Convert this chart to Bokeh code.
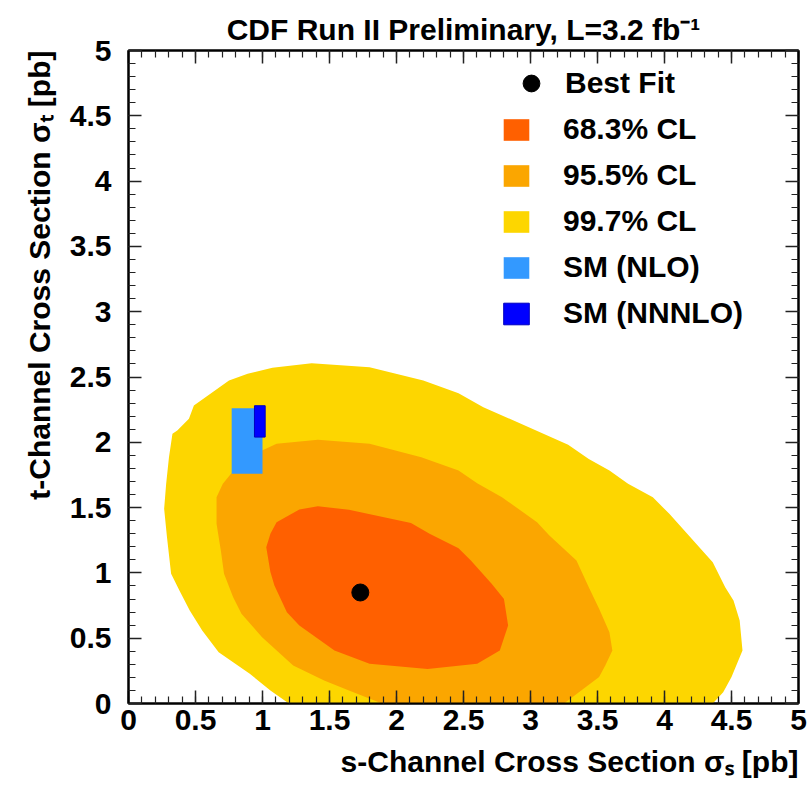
import numpy as np
from bokeh.plotting import figure
from bokeh.models import Range1d, LinearAxis, FixedTicker, Legend, LegendItem, Title
from bokeh.embed import file_html
from bokeh.resources import INLINE

# ---- data -------------------------------------------------------------
# best fit (s-channel, t-channel) cross sections in pb
fit_s = [1.73]
fit_t = [0.85]

# 99.7% CL region boundary
cl997_s = [1.367, 1.799, 2.200, 2.463, 2.648, 3.281, 3.435, 3.589, 3.728, 3.913,
           4.036, 4.360, 4.453, 4.515, 4.561, 4.582, 4.500, 4.438, 4.360,
           1.197, 1.059, 0.905, 0.673, 0.550, 0.457, 0.380, 0.318, 0.287, 0.266,
           0.281, 0.302, 0.328, 0.364, 0.451, 0.488, 0.750, 0.889, 1.074]
cl997_t = [2.606, 2.575, 2.473, 2.376, 2.269, 1.981, 1.873, 1.784, 1.682, 1.580,
           1.452, 1.082, 0.891, 0.789, 0.636, 0.406, 0.202, 0.087, 0.0,
           0.0, 0.100, 0.227, 0.393, 0.559, 0.712, 0.865, 0.993, 1.274, 1.491,
           1.682, 1.886, 2.065, 2.090, 2.180, 2.282, 2.473, 2.524, 2.570]

# 95.5% CL region boundary
cl955_s = [1.413, 1.799, 2.185, 2.463, 2.602, 2.787, 3.049, 3.141, 3.343, 3.435,
           3.512, 3.589, 3.611, 3.558, 3.512, 3.250,
           1.892, 1.645, 1.460, 1.229, 0.997, 0.843, 0.781, 0.713, 0.689, 0.657,
           0.657, 0.704, 0.765, 0.997, 1.105]
cl955_t = [2.019, 1.988, 1.886, 1.784, 1.687, 1.580, 1.388, 1.286, 1.095, 0.891,
           0.725, 0.546, 0.406, 0.291, 0.202, 0.0,
           0.0, 0.100, 0.176, 0.291, 0.508, 0.687, 0.814, 0.993, 1.172, 1.376,
           1.580, 1.682, 1.759, 1.937, 1.988]

# 68.3% CL region boundary
cl683_s = [1.413, 1.645, 2.108, 2.247, 2.463, 2.555, 2.710, 2.802, 2.833, 2.771,
           2.602, 2.232, 1.799, 1.537, 1.275, 1.182, 1.089, 1.059, 1.028, 1.059,
           1.105, 1.275]
cl683_t = [1.511, 1.483, 1.383, 1.299, 1.189, 1.095, 0.916, 0.801, 0.597, 0.406,
           0.304, 0.265, 0.304, 0.406, 0.597, 0.699, 0.904, 1.006, 1.197, 1.299,
           1.388, 1.485]

# Standard Model predictions: central value and uncertainty
sm_nlo_s, sm_nlo_s_err = 0.885, 0.115
sm_nlo_t, sm_nlo_t_err = 2.01, 0.25
sm_nnnlo_s, sm_nnnlo_s_err = 0.98, 0.04
sm_nnnlo_t, sm_nnnlo_t_err = 2.16, 0.12

tick_values = [0, 0.5, 1, 1.5, 2, 2.5, 3, 3.5, 4, 4.5, 5]
tick_labels = ["0", "0.5", "1", "1.5", "2", "2.5", "3", "3.5", "4", "4.5", "5"]

series_labels = ["Best Fit", "68.3% CL", "95.5% CL", "99.7% CL", "SM (NLO)", "SM (NNNLO)"]

title_text = "CDF Run II Preliminary, L=3.2 fb\u207b\u00b9"
x_title = "s-Channel Cross Section \u03c3\u209b [pb]"
y_title = "t-Channel Cross Section \u03c3\u209c [pb]"

# ---- style ------------------------------------------------------------
C683 = "#FF6000"
C955 = "#FBA600"
C997 = "#FDD600"
C_NLO = "#3399FF"
C_NNNLO = "#0000FF"
FONT = "Liberation Sans"

p = figure(width=810, height=793, output_backend="svg", toolbar_location=None,
           x_range=Range1d(0, 5), y_range=Range1d(0, 5),
           min_border_left=128, min_border_right=12, min_border_top=50,
           min_border_bottom=90, x_axis_location=None, y_axis_location=None)
p.grid.visible = False
p.outline_line_color = "black"
p.outline_line_width = 2
p.background_fill_color = "white"
p.border_fill_color = "white"

p.title.text = title_text
p.title.align = "center"
p.title.text_font = FONT
p.title.text_font_style = "bold"
p.title.text_font_size = "30px"
p.title.text_color = "black"
p.title.standoff = 10

# confidence regions, outermost first
r997 = p.patch(cl997_s, cl997_t, fill_color=C997, line_color=None)
r955 = p.patch(cl955_s, cl955_t, fill_color=C955, line_color=None)
r683 = p.patch(cl683_s, cl683_t, fill_color=C683, line_color=None)

# SM prediction boxes
r_nlo = p.quad(left=[sm_nlo_s - sm_nlo_s_err], right=[sm_nlo_s + sm_nlo_s_err],
               bottom=[sm_nlo_t - sm_nlo_t_err], top=[sm_nlo_t + sm_nlo_t_err],
               fill_color=C_NLO, line_color=None)
r_nnnlo = p.quad(left=[sm_nnnlo_s - sm_nnnlo_s_err], right=[sm_nnnlo_s + sm_nnnlo_s_err],
                 bottom=[sm_nnnlo_t - sm_nnnlo_t_err], top=[sm_nnnlo_t + sm_nnnlo_t_err],
                 fill_color=C_NNNLO, line_color="#0000C0", line_width=1)

fit_r = p.scatter(fit_s, fit_t, size=17, color="black")

# ---- axes -------------------------------------------------------------
minor = [round(v, 2) for v in np.arange(0, 5.001, 0.1)]
ticker = FixedTicker(ticks=tick_values, minor_ticks=minor)


def style_axis(ax, labels):
    ax.ticker = ticker
    ax.axis_line_color = "black"
    ax.axis_line_width = 2
    ax.major_tick_in = 13
    ax.major_tick_out = 0
    ax.minor_tick_in = 7
    ax.minor_tick_out = 0
    ax.major_tick_line_color = "#222222"
    ax.minor_tick_line_color = "#222222"
    ax.major_tick_line_width = 1.5
    ax.minor_tick_line_width = 1.2
    ax.major_label_text_font = FONT
    ax.major_label_text_font_style = "bold"
    ax.major_label_text_font_size = "30px"
    ax.major_label_text_color = "black"
    if labels:
        ax.major_label_overrides = {v: s for v, s in zip(tick_values, tick_labels)}
    else:
        # mirrored axis: tick marks only
        ax.major_label_overrides = {v: "" for v in tick_values}
        ax.major_label_standoff = 0


xb = LinearAxis()
style_axis(xb, True)
xb.major_label_standoff = 6
p.add_layout(xb, "below")

yl = LinearAxis()
style_axis(yl, True)
yl.major_label_standoff = 17
p.add_layout(yl, "left")

xt = LinearAxis()
style_axis(xt, False)
p.add_layout(xt, "above")

yr = LinearAxis()
style_axis(yr, False)
p.add_layout(yr, "right")

# axis titles, flush with the upper end of each axis
p.add_layout(Title(text=x_title, align="right", offset=0, standoff=21,
                   text_font=FONT, text_font_style="bold", text_font_size="30px",
                   text_color="black"), "below")
p.add_layout(Title(text=y_title, align="right", offset=0, standoff=21,
                   text_font=FONT, text_font_style="bold", text_font_size="30px",
                   text_color="black"), "left")

# ---- legend -----------------------------------------------------------
leg_fit = Legend(items=[LegendItem(label=series_labels[0], renderers=[fit_r])],
                 glyph_width=42, glyph_height=42, label_standoff=13,
                 padding=0, margin=0, location=(382, 599),
                 background_fill_alpha=0, border_line_alpha=0,
                 label_text_font=FONT, label_text_font_style="bold",
                 label_text_font_size="30px", label_text_color="black")

leg_cl = Legend(items=[LegendItem(label=lab, renderers=[r])
                       for lab, r in zip(series_labels[1:],
                                         [r683, r955, r997, r_nlo, r_nnnlo])],
                glyph_width=32, glyph_height=27, label_standoff=31, spacing=12,
                padding=0, margin=0, location=(372, 373),
                background_fill_alpha=0, border_line_alpha=0,
                label_text_font=FONT, label_text_font_style="bold",
                label_text_font_size="30px", label_text_color="black")
p.add_layout(leg_fit, "center")
p.add_layout(leg_cl, "center")

open("out.html", "w").write(file_html(p, INLINE))
